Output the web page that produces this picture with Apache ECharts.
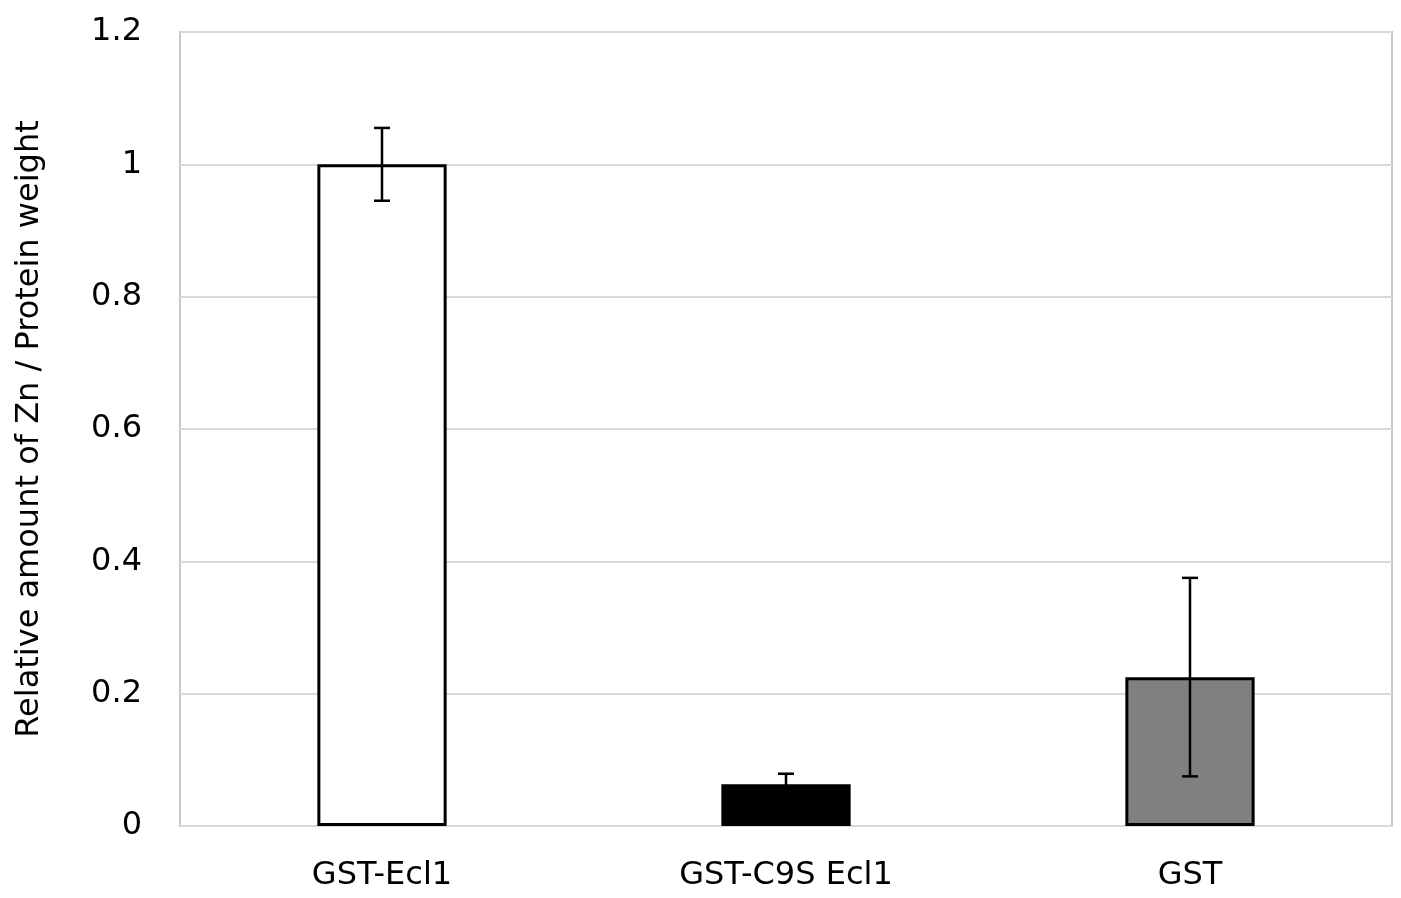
<!DOCTYPE html>
<html>
<head>
<meta charset="utf-8">
<script src="https://cdn.jsdelivr.net/npm/echarts@6/dist/echarts.min.js"></script>
<style>
  html, body { margin: 0; padding: 0; background: #fff; }
  #chart { width: 1401px; height: 898px; }
</style>
</head>
<body>
<div id="chart"></div>
<script>
// data
var categories = ['GST-Ecl1', 'GST-C9S Ecl1', 'GST']
var values = [1.0, 0.063, 0.225]
var errors = [0.055, 0.016, 0.15]
var barColors = ['#ffffff', '#000000', '#808080']

var fontFamily = "'DejaVu Sans', sans-serif"

var chart = echarts.init(document.getElementById('chart'))

var errorData = values.map(function (v, i) {
  return [i, v - errors[i], v + errors[i]]
})

var option = {
  animation: false,
  grid: {
    left: 180,
    right: 9,
    top: 32,
    bottom: 72,
    show: true,
    borderColor: '#c8c8c8',
    borderWidth: 2,
    backgroundColor: '#fff'
  },
  xAxis: {
    type: 'category',
    data: categories,
    axisLine: { show: true, lineStyle: { color: '#d9d9d9', width: 2 } },
    axisTick: { show: false },
    axisLabel: { color: '#000', fontSize: 32, fontFamily: fontFamily, margin: 34 }
  },
  yAxis: {
    type: 'value',
    min: 0,
    max: 1.2,
    interval: 0.2,
    name: 'Relative amount of Zn / Protein weight',
    nameLocation: 'middle',
    nameGap: 134,
    nameTextStyle: { color: '#000', fontSize: 32, fontFamily: fontFamily },
    axisLine: { show: false },
    axisTick: { show: false },
    axisLabel: {
      color: '#000',
      fontSize: 32,
      fontFamily: fontFamily,
      margin: 38,
      formatter: function (v) { return String(Math.round(v * 10) / 10) }
    },
    splitLine: { lineStyle: { color: '#d9d9d9', width: 2 } }
  },
  series: [
    {
      type: 'bar',
      barWidth: '32%',
      data: values.map(function (v, i) {
        return {
          value: v,
          itemStyle: { color: barColors[i], borderColor: '#000', borderWidth: 3 }
        }
      })
    },
    {
      type: 'custom',
      data: errorData,
      z: 10,
      renderItem: function (params, api) {
        var x = api.value(0)
        var lo = api.coord([x, api.value(1)])
        var hi = api.coord([x, api.value(2)])
        var cap = 8
        var style = { stroke: '#000', lineWidth: 2.5 }
        return {
          type: 'group',
          children: [
            { type: 'line', shape: { x1: lo[0], y1: lo[1], x2: hi[0], y2: hi[1] }, style: style },
            { type: 'line', shape: { x1: lo[0] - cap, y1: lo[1], x2: lo[0] + cap, y2: lo[1] }, style: style },
            { type: 'line', shape: { x1: hi[0] - cap, y1: hi[1], x2: hi[0] + cap, y2: hi[1] }, style: style }
          ]
        }
      }
    }
  ]
}

chart.setOption(option)
</script>
</body>
</html>
